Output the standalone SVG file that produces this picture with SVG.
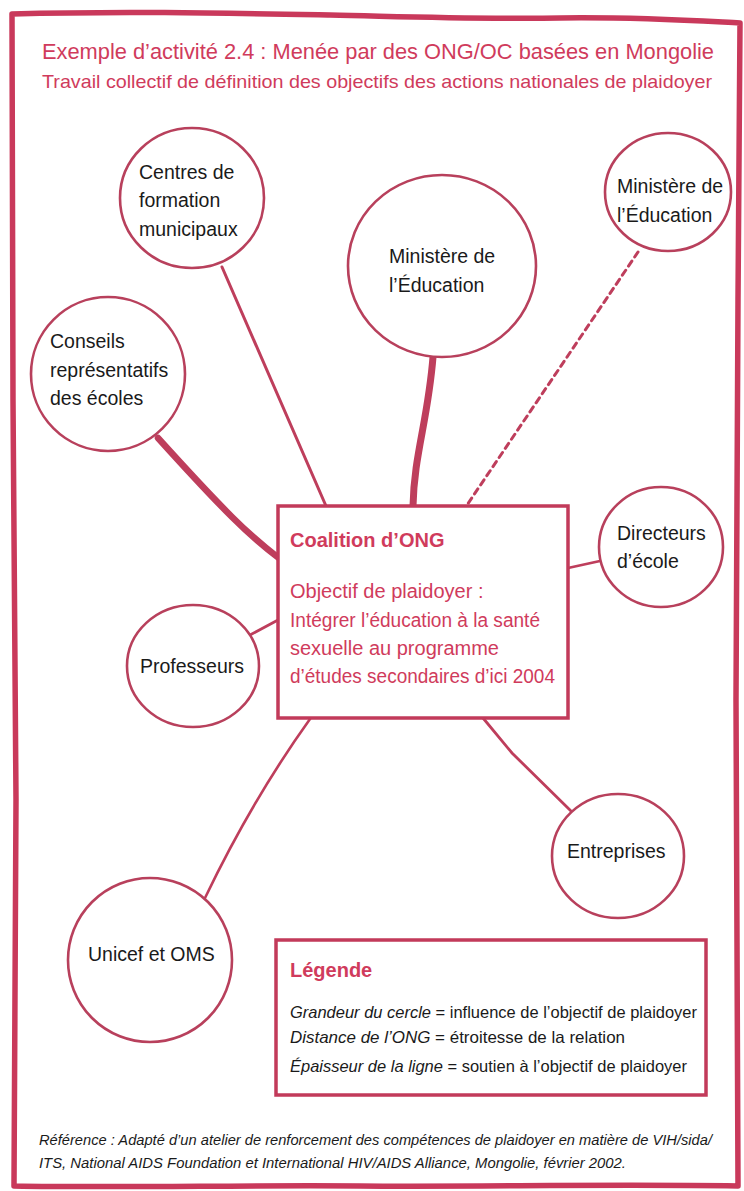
<svg xmlns="http://www.w3.org/2000/svg" width="744" height="1191" viewBox="0 0 744 1191">
<style>
.bg{fill:#ffffff}
.frame{fill:none;stroke:#c9395b;stroke-width:5.5;stroke-linejoin:round}
.node{fill:#ffffff;stroke:#b8405c;stroke-width:2.6}
.box{fill:#ffffff;stroke:#c23a5a;stroke-width:3.5}
.lbl{font-family:"Liberation Sans",Arial,sans-serif;font-size:19.5px;fill:#1a1a1a}
.pink{font-family:"Liberation Sans",Arial,sans-serif;fill:#d03b5c}
.b{font-weight:bold}
.leg{font-family:"Liberation Sans",Arial,sans-serif;font-size:16.5px;fill:#1a1a1a}
.ref{font-family:"Liberation Sans",Arial,sans-serif;font-size:15px;font-style:italic;fill:#1a1a1a}
.c{fill:none;stroke:#be3e5c;stroke-linecap:round}
</style>
<rect class="bg" x="0" y="0" width="744" height="1191"/>
<path class="frame" d="M12,14 C120,11 220,13 330,15 C420,17 470,19 560,18 C640,17 700,21 740,23 L738,300 L736,700 L738,1186 C600,1184 480,1187 360,1186 C240,1185 120,1188 14,1186 L16,800 L13,400 Z"/>
<g id="title">
<text class="pink" x="42" y="59" font-size="22" textLength="672" lengthAdjust="spacingAndGlyphs">Exemple d’activité 2.4 : Menée par des ONG/OC basées en Mongolie</text>
<text class="pink" x="42" y="88" font-size="18.5" textLength="670" lengthAdjust="spacingAndGlyphs">Travail collectif de définition des objectifs des actions nationales de plaidoyer</text>
</g>
<g id="connectors">
<path class="c" stroke-width="3" d="M222,267 L326,506"/>
<path class="c" stroke-width="7" d="M433,357 C428,420 414,455 413,506"/>
<path class="c" stroke-width="3" stroke-dasharray="6 5" stroke-linecap="butt" stroke="#c98596" d="M638,252 L467,505"/>
<path class="c" stroke-width="6.5" d="M158,438 Q205,490 232,517 Q255,540 280,559"/>
<path class="c" stroke-width="2.8" d="M250,635 L278,620"/>
<path class="c" stroke-width="2.8" d="M568,568 L600,561"/>
<path class="c" stroke-width="2.8" d="M483,718 L512,753 L572,812"/>
<path class="c" stroke-width="2.6" d="M310,719 Q252,800 205,898"/>
</g>
<g id="centres">
<ellipse class="node" cx="192" cy="198" rx="72" ry="70"/>
<text class="lbl" x="139" y="179">Centres de</text>
<text class="lbl" x="139" y="207">formation</text>
<text class="lbl" x="139" y="236">municipaux</text>
</g>
<g id="ministere-grand">
<ellipse class="node" cx="442" cy="266" rx="94" ry="91"/>
<text class="lbl" x="389" y="263">Ministère de</text>
<text class="lbl" x="389" y="292">l’Éducation</text>
</g>
<g id="ministere-petit">
<ellipse class="node" cx="668" cy="192" rx="63" ry="59"/>
<text class="lbl" x="617" y="193">Ministère de</text>
<text class="lbl" x="617" y="222">l’Éducation</text>
</g>
<g id="conseils">
<ellipse class="node" cx="108" cy="374" rx="77" ry="77"/>
<text class="lbl" x="50" y="348">Conseils</text>
<text class="lbl" x="50" y="377">représentatifs</text>
<text class="lbl" x="50" y="405">des écoles</text>
</g>
<g id="professeurs">
<ellipse class="node" cx="193" cy="666" rx="66" ry="61"/>
<text class="lbl" x="140" y="673">Professeurs</text>
</g>
<g id="coalition">
<rect class="box" x="278" y="506" width="290" height="212"/>
<text class="pink b" x="290" y="547" font-size="20">Coalition d’ONG</text>
<text class="pink" x="290" y="598" font-size="20">Objectif de plaidoyer :</text>
<text class="pink" x="290" y="627" font-size="20" textLength="250" lengthAdjust="spacingAndGlyphs">Intégrer l’éducation à la santé</text>
<text class="pink" x="290" y="655" font-size="20">sexuelle au programme</text>
<text class="pink" x="290" y="683" font-size="20" textLength="265" lengthAdjust="spacingAndGlyphs">d’études secondaires d’ici 2004</text>
</g>
<g id="directeurs">
<ellipse class="node" cx="661" cy="547" rx="62" ry="60"/>
<text class="lbl" x="617" y="540">Directeurs</text>
<text class="lbl" x="617" y="568">d’école</text>
</g>
<g id="entreprises">
<ellipse class="node" cx="618" cy="856" rx="66" ry="62"/>
<text class="lbl" x="567" y="858">Entreprises</text>
</g>
<g id="unicef">
<ellipse class="node" cx="150" cy="960" rx="82" ry="82"/>
<text class="lbl" x="88" y="961">Unicef et OMS</text>
</g>
<g id="legende">
<rect class="box" x="276" y="940" width="430" height="155"/>
<text class="pink b" x="290" y="977" font-size="20">Légende</text>
<text class="leg" x="290" y="1018" textLength="407" lengthAdjust="spacingAndGlyphs"><tspan font-style="italic">Grandeur du cercle</tspan> = influence de l’objectif de plaidoyer</text>
<text class="leg" x="290" y="1043" textLength="335" lengthAdjust="spacingAndGlyphs"><tspan font-style="italic">Distance de l’ONG</tspan> = étroitesse de la relation</text>
<text class="leg" x="290" y="1072" textLength="397" lengthAdjust="spacingAndGlyphs"><tspan font-style="italic">Épaisseur de la ligne</tspan> = soutien à l’objectif de plaidoyer</text>
</g>
<g id="reference">
<text class="ref" x="39" y="1145" textLength="673" lengthAdjust="spacingAndGlyphs">Référence : Adapté d’un atelier de renforcement des compétences de plaidoyer en matière de VIH/sida/</text>
<text class="ref" x="39" y="1168" textLength="587" lengthAdjust="spacingAndGlyphs">ITS, National AIDS Foundation et International HIV/AIDS Alliance, Mongolie, février 2002.</text>
</g>
</svg>
